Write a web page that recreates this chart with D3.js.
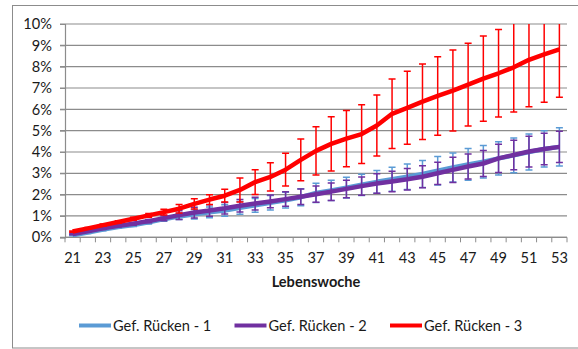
<!DOCTYPE html>
<html>
<head>
<meta charset="utf-8">
<script src="https://cdn.jsdelivr.net/npm/d3@7"></script>
<style>
  html, body { margin: 0; padding: 0; background: #fff; }
  svg { display: block; }
  text { font-family: Lato, "Liberation Sans", sans-serif; fill: #1a1a1a; }
</style>
</head>
<body>
<svg id="chart" width="578" height="349"></svg>
<script>
// Lebenswochen (categories)
const weeks = [21,22,23,24,25,26,27,28,29,30,31,32,33,34,35,36,37,38,39,40,41,42,43,44,45,46,47,48,49,50,51,52,53];
const tickWeeks = [21,23,25,27,29,31,33,35,37,39,41,43,45,47,49,51,53];
const yTicks = [0,1,2,3,4,5,6,7,8,9,10];

// Anteil in %, je Gruppe
const ruecken1 = [0.10,0.22,0.36,0.48,0.58,0.70,0.85,0.98,1.08,1.17,1.26,1.38,1.50,1.62,1.74,1.88,2.08,2.20,2.33,2.46,2.60,2.72,2.84,2.97,3.12,3.27,3.42,3.54,3.70,3.84,4.00,4.14,4.24];
const ruecken2 = [0.15,0.28,0.42,0.54,0.64,0.76,0.90,1.04,1.16,1.26,1.36,1.48,1.58,1.68,1.79,1.90,2.02,2.14,2.27,2.40,2.52,2.62,2.72,2.84,3.00,3.16,3.32,3.46,3.70,3.86,4.02,4.14,4.24];
const ruecken3 = [0.27,0.42,0.57,0.72,0.87,1.03,1.18,1.34,1.57,1.77,1.95,2.22,2.59,2.83,3.17,3.63,4.05,4.38,4.63,4.84,5.24,5.79,6.07,6.36,6.63,6.88,7.16,7.44,7.69,7.97,8.32,8.58,8.81];

// Standardabweichung in %
const sd1 = [0.03,0.04,0.05,0.06,0.07,0.08,0.10,0.15,0.22,0.25,0.27,0.30,0.32,0.34,0.37,0.40,0.45,0.47,0.49,0.50,0.53,0.56,0.60,0.63,0.67,0.68,0.74,0.76,0.78,0.81,0.84,0.85,0.90];
const sd2 = [0.03,0.04,0.05,0.06,0.07,0.08,0.12,0.20,0.25,0.27,0.27,0.29,0.30,0.30,0.34,0.36,0.38,0.41,0.41,0.43,0.46,0.48,0.50,0.52,0.52,0.59,0.59,0.61,0.66,0.69,0.72,0.74,0.73];
const sd3 = [0.03,0.04,0.05,0.06,0.07,0.09,0.13,0.20,0.24,0.23,0.30,0.56,0.58,0.66,0.77,0.98,1.13,1.27,1.32,1.38,1.43,1.63,1.71,1.77,1.84,1.90,1.94,2.00,2.05,2.09,2.20,2.25,2.24];

const seriesNames = ["Gef. Rücken - 1", "Gef. Rücken - 2", "Gef. Rücken - 3"];
const seriesColors = ["#5b9bd5", "#7030a0", "#ff0000"];

const series = [
  { name: seriesNames[0], color: seriesColors[0], values: ruecken1, sd: sd1 },
  { name: seriesNames[1], color: seriesColors[1], values: ruecken2, sd: sd2 },
  { name: seriesNames[2], color: seriesColors[2], values: ruecken3, sd: sd3 }
];

const svg = d3.select("#chart");
const plot = { left: 65, right: 567, top: 24, bottom: 237.3 };
const fontSize = "14.6px";

// outer chart frame
svg.append("rect")
  .attr("x", 12.5).attr("y", 5.5)
  .attr("width", 600).attr("height", 342.5)
  .attr("fill", "none").attr("stroke", "#8c8c8c").attr("stroke-width", 1);

const x = d3.scaleBand().domain(weeks).range([plot.left, plot.right]);
const y = d3.scaleLinear().domain([0, 10]).range([plot.bottom, plot.top]);
const cx = w => x(w) + x.bandwidth() / 2;

// horizontal gridlines
svg.append("g")
  .selectAll("line")
  .data(yTicks)
  .join("line")
  .attr("x1", plot.left - 5).attr("x2", plot.right)
  .attr("y1", d => y(d)).attr("y2", d => y(d))
  .attr("stroke", "#8c8c8c").attr("stroke-width", 1.2);

// y axis
const yAxis = svg.append("g")
  .attr("transform", `translate(${plot.left},0)`)
  .call(d3.axisLeft(y).tickValues(yTicks).tickFormat(d => d + "%").tickSize(5).tickPadding(8));
yAxis.select(".domain").attr("stroke", "#8c8c8c").attr("stroke-width", 1.2);
yAxis.selectAll(".tick line").attr("stroke", "#8c8c8c");
yAxis.selectAll("text").style("font-size", fontSize).attr("fill", "#1a1a1a");

// x axis with tick marks on category boundaries
const xAxis = svg.append("g").attr("transform", `translate(0,${plot.bottom})`);
xAxis.append("line")
  .attr("x1", plot.left).attr("x2", plot.right)
  .attr("stroke", "#8c8c8c").attr("stroke-width", 1.2);
xAxis.selectAll("line.tk")
  .data(weeks.concat([null]))
  .join("line").attr("class", "tk")
  .attr("x1", (d, i) => plot.left + i * x.bandwidth())
  .attr("x2", (d, i) => plot.left + i * x.bandwidth())
  .attr("y1", 0).attr("y2", 5)
  .attr("stroke", "#8c8c8c");
xAxis.selectAll("text")
  .data(tickWeeks)
  .join("text")
  .attr("x", d => cx(d)).attr("y", 26)
  .attr("text-anchor", "middle")
  .style("font-size", fontSize)
  .text(d => d);

// axis title
svg.append("text")
  .attr("x", (plot.left + plot.right) / 2).attr("y", 286.5)
  .attr("text-anchor", "middle")
  .style("font-size", fontSize).style("font-weight", "bold")
  .text("Lebenswoche");

// clip to plot area
svg.append("clipPath").attr("id", "plotclip")
  .append("rect")
  .attr("x", plot.left).attr("y", plot.top)
  .attr("width", plot.right - plot.left).attr("height", plot.bottom - plot.top);

const marks = svg.append("g").attr("clip-path", "url(#plotclip)");
const line = d3.line().x((d, i) => cx(weeks[i])).y(d => y(d));
const cap = 3.5;

series.forEach(s => {
  marks.append("path")
    .datum(s.values)
    .attr("d", line)
    .attr("fill", "none")
    .attr("stroke", s.color)
    .attr("stroke-width", 4.5)
    .attr("stroke-linejoin", "round");

  const eb = marks.append("g").attr("stroke", s.color).attr("stroke-width", 1.5).attr("fill", "none");
  const pts = weeks.map((w, i) => ({ w, v: s.values[i], e: s.sd[i] }));
  eb.selectAll("path")
    .data(pts)
    .join("path")
    .attr("d", p => {
      const px = cx(p.w), top = y(p.v + p.e), bot = y(p.v - p.e);
      return `M${px},${top}V${bot}M${px - cap},${top}H${px + cap}M${px - cap},${bot}H${px + cap}`;
    });
});

// legend
const legend = svg.append("g");
series.forEach((s, i) => {
  const lx = 79 + i * 155.5;
  legend.append("line")
    .attr("x1", lx).attr("x2", lx + 32)
    .attr("y1", 325.5).attr("y2", 325.5)
    .attr("stroke", s.color).attr("stroke-width", 4);
  legend.append("text")
    .attr("x", lx + 34).attr("y", 330.5)
    .style("font-size", fontSize)
    .text(s.name);
});
</script>
</body>
</html>
